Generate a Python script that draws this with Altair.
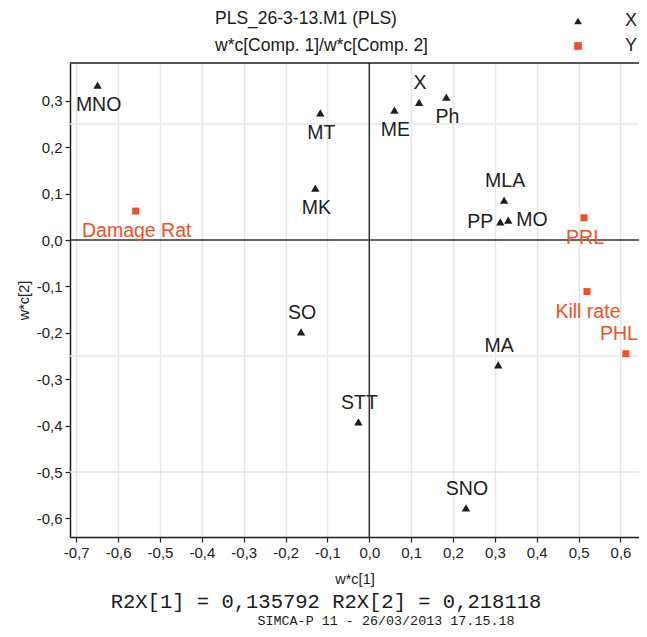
import altair as alt
import pandas as pd

# ---- data ----
x_names = ["MNO", "MT", "ME", "X", "Ph", "MK", "MLA", "PP", "MO", "SO", "MA", "STT", "SNO"]
x_w1 = [-0.649, -0.117, 0.060, 0.119, 0.184, -0.129, 0.322, 0.313, 0.332, -0.163, 0.308, -0.026, 0.231]
x_w2 = [0.334, 0.274, 0.280, 0.297, 0.308, 0.112, 0.086, 0.039, 0.043, -0.198, -0.269, -0.392, -0.577]
x_pos = ["below", "below", "below", "above", "below", "below", "above", "left", "right", "above", "above", "above", "above"]

y_names = ["Damage Rat", "PRL", "Kill rate", "PHL"]
y_w1 = [-0.558, 0.513, 0.520, 0.613]
y_w2 = [0.0625, 0.048, -0.111, -0.245]
y_pos = ["below", "below", "below", "above-end"]

hgrid = [0.25, -0.25, -0.5]
xticks = [round(-0.70 + 0.05 * i, 2) for i in range(28)]
yticks = [round(-0.60 + 0.05 * i, 2) for i in range(20)]

title_lines = ["PLS_26-3-13.M1 (PLS)", "w*c[Comp. 1]/w*c[Comp. 2]"]
footer1 = "R2X[1] = 0,135792 R2X[2] = 0,218118"
footer2 = "SIMCA-P 11 - 26/03/2013 17.15.18"

ORANGE = "#EF5126"
DARK = "#1e1e1e"
W, H = 569, 474

df = pd.DataFrame({
    "name": x_names + y_names,
    "w1": x_w1 + y_w1,
    "w2": x_w2 + y_w2,
    "type": ["X"] * len(x_names) + ["Y"] * len(y_names),
    "pos": x_pos + y_pos,
})

label_expr = ("round(datum.value*20) % 2 == 0 ? "
              "replace(replace(format(datum.value, '.1f'), '.', ','), '\u2212', '-') : ''")

xenc = alt.X("w1:Q", scale=alt.Scale(domain=[-0.715, 0.6443], nice=False, zero=False),
             axis=alt.Axis(values=xticks, labelExpr=label_expr, title="w*c[1]",
                           grid=True, gridColor="#e6e6e6", gridWidth=1.5,
                           domainColor=DARK, domainWidth=1.5, tickColor=DARK, tickWidth=1.2,
                           tickSize=5, labelPadding=3, labelFontSize=15, labelFont="Liberation Sans",
                           labelColor="#222", titleFont="Liberation Sans", titleFontSize=14.5,
                           titleFontWeight="normal", titleColor="#222", titlePadding=12,
                           labelFlush=False, labelOverlap=False))
yenc = alt.Y("w2:Q", scale=alt.Scale(domain=[-0.64, 0.3816], nice=False, zero=False),
             axis=alt.Axis(values=yticks, labelExpr=label_expr, title="w*c[2]",
                           grid=False, domainColor=DARK, domainWidth=1.5, tickColor=DARK,
                           tickWidth=1.2, tickSize=5, labelPadding=3, labelFontSize=15,
                           labelFont="Liberation Sans", labelColor="#222",
                           titleFont="Liberation Sans", titleFontSize=14.5,
                           titleFontWeight="normal", titleColor="#222", titlePadding=5,
                           labelFlush=False, labelOverlap=False))

shape_scale = alt.Scale(domain=["X", "Y"], range=["triangle-up", "square"])
color_scale = alt.Scale(domain=["X", "Y"], range=[DARK, ORANGE])

base = alt.Chart(df)

grid_rules = alt.Chart(pd.DataFrame({"v": hgrid})).mark_rule(
    color="#e6e6e6", strokeWidth=1.5).encode(y=alt.Y("v:Q"))
zero_x = alt.Chart(pd.DataFrame({"v": [0.0]})).mark_rule(
    color="#333333", strokeWidth=1.5).encode(x=alt.X("v:Q"))
zero_y = alt.Chart(pd.DataFrame({"v": [0.0]})).mark_rule(
    color="#333333", strokeWidth=1.5).encode(y=alt.Y("v:Q"))
top_border = alt.Chart(pd.DataFrame({"v": [0]})).mark_rule(
    color=DARK, strokeWidth=1.5).encode(x=alt.value(0), x2=alt.value(W), y=alt.value(0))

legend = alt.Legend(orient="none", legendX=499, legendY=-51, title=None,
                    labelFontSize=18, labelFont="Liberation Sans", labelColor="#222",
                    symbolSize=60, labelOffset=38, rowPadding=7, padding=0,
                    symbolStrokeWidth=0)

pts_x = base.transform_filter("datum.type == 'X'").mark_point(
    filled=True, size=70, opacity=1).encode(
    x=xenc, y=yenc,
    shape=alt.Shape("type:N", scale=shape_scale, legend=legend),
    color=alt.Color("type:N", scale=color_scale, legend=legend))
pts_y = base.transform_filter("datum.type == 'Y'").mark_point(
    filled=True, size=49, opacity=1).encode(
    x=xenc, y=yenc,
    shape=alt.Shape("type:N", scale=shape_scale, legend=legend),
    color=alt.Color("type:N", scale=color_scale, legend=legend))

def labels(pos, **kw):
    return base.transform_filter(f"datum.pos == '{pos}'").mark_text(
        font="Liberation Sans", fontSize=19.5, baseline="middle", **kw).encode(
        x=xenc, y=yenc, text="name:N",
        color=alt.Color("type:N", scale=color_scale, legend=None))

lab_below = labels("below", dy=20, dx=1, align="center")
lab_above = labels("above", dy=-19, dx=1, align="center")
lab_above_end = labels("above-end", dy=-20, dx=12, align="right")
lab_left = labels("left", dx=-7, align="right")
lab_right = labels("right", dx=8, align="left")

def free_text(txt, font, size, x, y, align):
    return alt.Chart(pd.DataFrame({"t": [txt]})).mark_text(
        font=font, fontSize=size, color="#1a1a1a", align=align, baseline="middle").encode(
        x=alt.value(x), y=alt.value(y), text="t:N")

title1 = free_text(title_lines[0], "Liberation Sans", 17.5, 145, -44, "left")
title2 = free_text(title_lines[1], "Liberation Sans", 17.5, 145, -17, "left")
foot1 = free_text(footer1, "Liberation Mono", 20.5, 256, 538.5, "center")
foot2 = free_text(footer2, "Liberation Mono", 13.4, 316, 558, "center")

chart = alt.layer(
    grid_rules, zero_x, zero_y, top_border, pts_x, pts_y,
    lab_below, lab_above, lab_above_end, lab_left, lab_right,
    title1, title2, foot1, foot2
).properties(
    width=W, height=H,
    padding={"left": 62, "top": 55, "right": 0, "bottom": 92},
    autosize=alt.AutoSizeParams(type="none"),
    background="white",
).configure_view(stroke=None)

chart.save("out.html", embed_options={"renderer": "svg", "actions": False})
